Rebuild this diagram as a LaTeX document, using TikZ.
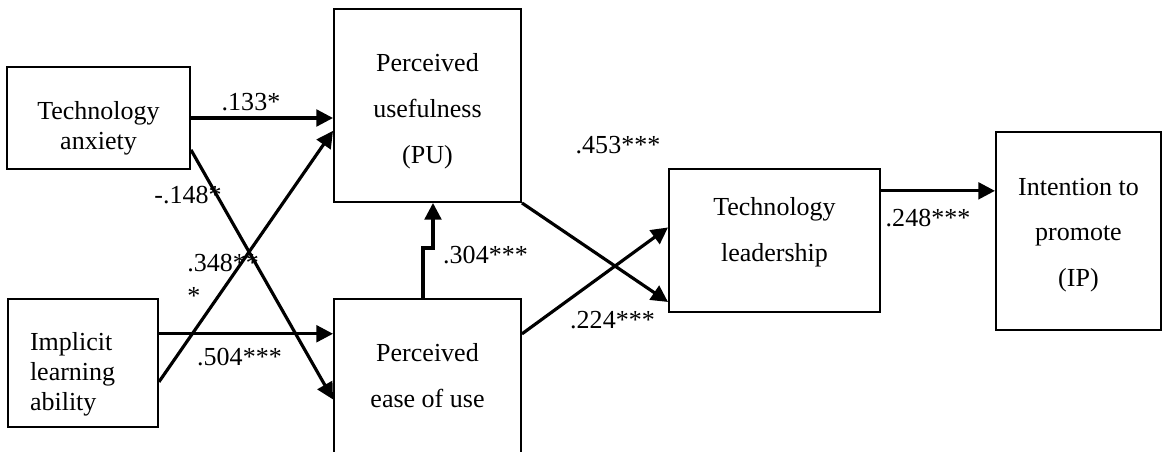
\documentclass[tikz,border=0pt]{standalone}
\usepackage{fontspec}
\setmainfont{Liberation Serif}
\usetikzlibrary{arrows.meta, positioning}

\begin{document}
\begin{tikzpicture}[>={Triangle[length=9.5pt, width=9.5pt]},
	box/.style={draw, rectangle, line width=1.1pt, align=center, font=\fontsize{14.8}{17}\selectfont},
	wide/.style={box, font=\fontsize{14.8}{26}\selectfont},
	link/.style={->, line width=1.8pt},
	coef/.style={font=\fontsize{14.8}{17}\selectfont, inner sep=0pt, anchor=base}]
	\useasboundingbox (0,0) rectangle (23.26,-9.04);
	\node[box, text height=35.5pt, text depth=0pt, minimum width=3.66cm, minimum height=2.04cm] (TA) at (1.97,-2.36) {Technology\\anxiety};
	\node[box, align=left, text width=2.12cm, text height=0pt, text depth=14.4pt, minimum width=3cm, minimum height=2.56cm, below=2.56cm of TA, xshift=-0.31cm] (ILA) {Implicit\\learning\\ability};
	\node[wide, text height=65.6pt, text depth=0pt, minimum width=3.74cm, minimum height=3.86cm] (PU) at (8.55,-2.11) {Perceived\\usefulness\\(PU)};
	\node[wide, minimum width=3.74cm, minimum height=3.08cm, below=1.9cm of PU] (PEOU) {Perceived\\ease of use};
	\node[wide, text height=24pt, text depth=0pt, minimum width=4.22cm, minimum height=2.86cm] (TL) at (15.49,-4.81) {Technology\\leadership};
	\node[wide, text height=63.2pt, text depth=0pt, minimum width=3.3cm, minimum height=3.96cm, right=2.28cm of TL, yshift=0.19cm] (IP) {Intention to\\promote\\(IP)};
	
	\draw[link] (TA.east) -- (TA.east -| PU.west);
	\draw[link] (TA.-19) -- (PEOU.194);
	\draw[link] (ILA.-14) -- (PU.195);
	\draw[link] (ILA.21) -- (ILA.21 -| PEOU.west);
	\draw[link] ([xshift=-0.09cm]PEOU.north) -- ++(0,1) -| ([xshift=0.11cm]PU.south);
	\draw[link] (PU.south east) -- (TL.210);
	\draw[link] (PEOU.24) -- (TL.173);
	\draw[link] (TL.25) -- (TL.25 -| IP.west);
	
	\node[coef] (c133) at (5.02,-2.21) {.133*};
	\node[coef] (c148) at (3.76,-4.07) {-.148*};
	\node[coef, anchor=base west, align=left, font=\fontsize{14.8}{18.5}\selectfont] (c348) at (3.74,-6.08) {.348**\\*};
	\node[coef] (c504) at (4.79,-7.31) {.504***};
	\node[coef] (c304) at (9.71,-5.27) {.304***};
	\node[coef] (c453) at (12.36,-3.07) {.453***};
	\node[coef] (c224) at (12.25,-6.57) {.224***};
	\node[coef] (c248) at (18.56,-4.53) {.248***};
\end{tikzpicture}
\end{document}
